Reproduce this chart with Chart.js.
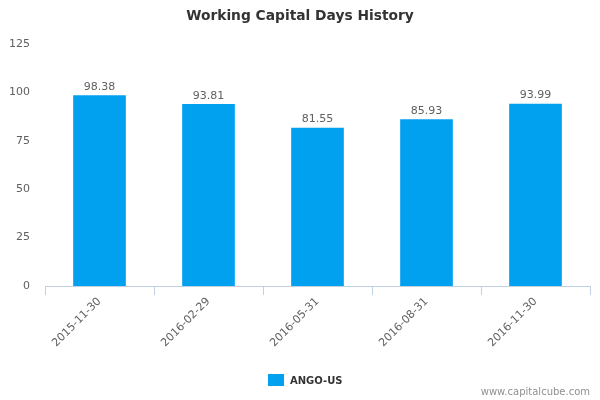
<!DOCTYPE html>
<html><head><meta charset="utf-8">
<script src="https://cdn.jsdelivr.net/npm/chart.js@4"></script>
<style>html,body{margin:0;padding:0;background:#fff}#w{width:600px;height:400px}</style>
</head><body><div id="w"><canvas id="c"></canvas></div>
<script>
const categories = ['2015-11-30','2016-02-29','2016-05-31','2016-08-31','2016-11-30'];
const values = [98.38, 93.81, 81.55, 85.93, 93.99];
const seriesName = 'ANGO-US';
const titleText = 'Working Capital Days History';
const creditText = 'www.capitalcube.com';
const yTicks = [0, 25, 50, 75, 100, 125];

const FONT = '"DejaVu Sans", sans-serif';
const BAR = '#02a1f0';

const extras = {
  id: 'extras',
  afterDatasetsDraw(chart) {
    const ctx = chart.ctx;
    const meta = chart.getDatasetMeta(0);
    ctx.save();
    ctx.font = '11px ' + FONT;
    ctx.fillStyle = '#606060';
    ctx.textAlign = 'center';
    ctx.textBaseline = 'bottom';
    meta.data.forEach((bar, i) => {
      ctx.fillText(values[i].toFixed(2), bar.x, bar.y - 3);
    });
    ctx.restore();
  },
  afterDraw(chart) {
    const ctx = chart.ctx;
    ctx.save();
    ctx.font = 'bold 13.8px ' + FONT;
    ctx.fillStyle = '#333333';
    ctx.textAlign = 'center';
    ctx.textBaseline = 'middle';
    ctx.fillText(titleText, 300, 16);
    // legend
    ctx.fillStyle = BAR;
    ctx.fillRect(268, 374, 16, 12);
    ctx.font = 'bold 10px ' + FONT;
    ctx.fillStyle = '#333333';
    ctx.textAlign = 'left';
    ctx.fillText(seriesName, 290, 381);
    // credit
    ctx.font = '10px ' + FONT;
    ctx.fillStyle = '#909090';
    ctx.textAlign = 'right';
    ctx.fillText(creditText, 590, 392);
    ctx.restore();
  }
};

new Chart(document.getElementById('c'), {
  type: 'bar',
  data: {
    labels: categories,
    datasets: [{ label: seriesName, data: values, backgroundColor: BAR, barThickness: 52 }]
  },
  options: {
    responsive: true,
    maintainAspectRatio: false,
    animation: false,
    devicePixelRatio: 1,
    layout: { padding: { top: 44, right: 10, left: 0, bottom: 0 } },
    plugins: { legend: { display: false }, title: { display: false }, tooltip: { enabled: false } },
    scales: {
      x: {
        afterFit(s) { s.height = 114; },
        grid: { offset: true, drawOnChartArea: false, drawTicks: true, tickLength: 9, color: '#c0d0e0' },
        border: { color: '#c0d0e0' },
        ticks: { minRotation: 45, maxRotation: 45, color: '#606060', font: { family: FONT, size: 11 }, padding: 0 }
      },
      y: {
        min: 0, max: 125,
        afterFit(s) { s.width = 45; },
        afterBuildTicks(s) { s.ticks = yTicks.map(v => ({ value: v })); },
        grid: { display: false, drawTicks: false },
        border: { display: false },
        ticks: { color: '#606060', font: { family: FONT, size: 11 }, padding: 15 }
      }
    }
  },
  plugins: [extras]
});
</script></body></html>
